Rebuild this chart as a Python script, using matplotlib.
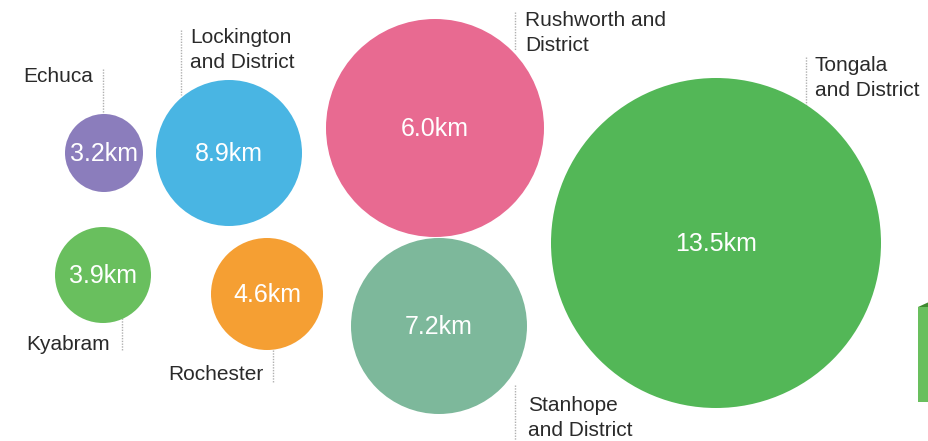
import matplotlib.pyplot as plt
from matplotlib.patches import Circle, Rectangle, Polygon

plt.rcParams['font.family'] = ['Liberation Sans', 'DejaVu Sans']

# towns, their distance values and bubble layout (pixel space, y down)
towns = ['Echuca', 'Lockington\nand District', 'Rushworth and\nDistrict',
         'Tongala\nand District', 'Kyabram', 'Rochester', 'Stanhope\nand District']
values = [3.2, 8.9, 6.0, 13.5, 3.9, 4.6, 7.2]
colors = ['#8b7dbc', '#49b5e3', '#e86a91', '#53b757', '#69bf5e', '#f59f33', '#7db89b']
cx = [104, 229, 435, 716, 103, 267, 439]
cy = [153, 153, 128, 243, 275, 294, 326]
radius = [39, 73, 109, 165, 48, 56, 88]

# label placement: text anchor, alignment, leader line x and y-range
label_x = [93, 190, 525, 815, 110, 264, 528]
label_y = [76, 50, 33, 78, 344, 375, 418]
label_ha = ['right', 'left', 'left', 'left', 'right', 'right', 'left']
lead_x = [103, 181, 515, 806, 122, 273, 515]
lead_y0 = [69, 30, 12, 57, 318, 350, 385]
lead_y1 = [114, 95, 50, 107, 350, 382, 441]

fig = plt.figure(figsize=(9.29, 4.41), dpi=100)
ax = fig.add_axes([0, 0, 1, 1])
ax.set_xlim(0, 929)
ax.set_ylim(441, 0)
ax.set_aspect('equal')
ax.axis('off')

for i in range(len(towns)):
    ax.plot([lead_x[i], lead_x[i]], [lead_y0[i], lead_y1[i]], color='#b0b0b0',
            lw=1, ls=(0, (1, 1)), zorder=1)
    ax.add_patch(Circle((cx[i], cy[i]), radius[i], color=colors[i], lw=0, zorder=2))
    ax.text(cx[i], cy[i] + 1, f'{values[i]:.1f}km', color='white', fontsize=18,
            ha='center', va='center', zorder=3)
    ax.text(label_x[i], label_y[i], towns[i], color='#2a2a2a', fontsize=15,
            ha=label_ha[i], va='center', linespacing=1.38, zorder=3)

# partial bar peeking in at the right edge
ax.add_patch(Rectangle((918, 307), 20, 95, color='#69bf5e', lw=0))
ax.add_patch(Polygon([(918, 307), (929, 302), (929, 307)], color='#3e8a2f', lw=0))

fig.savefig('out.png', dpi=100)
